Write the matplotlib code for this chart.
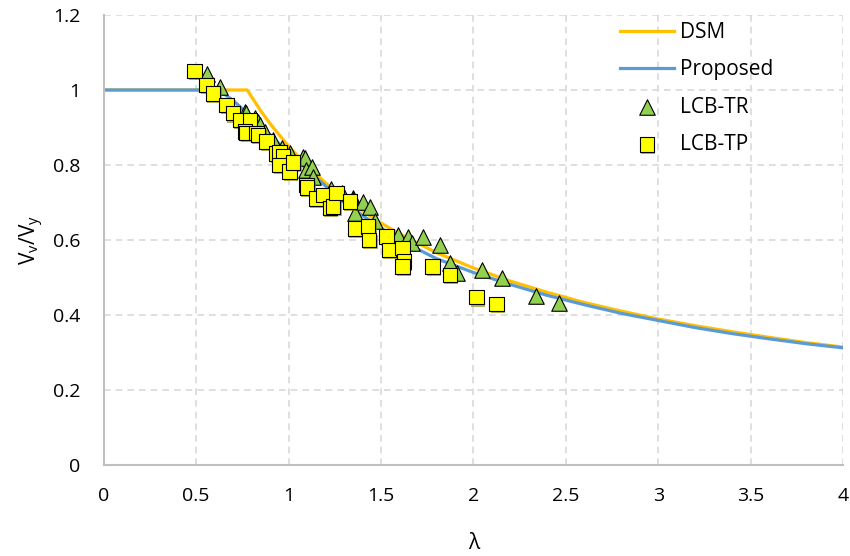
import numpy as np
import matplotlib
matplotlib.use('Agg')
import matplotlib.pyplot as plt
import matplotlib.patheffects as pe

plt.rcParams['font.family'] = ['Open Sans', 'DejaVu Sans']
plt.rcParams['mathtext.fontset'] = 'custom'
plt.rcParams['mathtext.rm'] = 'Open Sans'

# design curves
dsm_lam = [0, 0.776, 0.85, 0.9, 1.0, 1.1, 1.2, 1.3, 1.4, 1.5, 1.6, 1.8, 2.0, 2.2,
           2.4, 2.6, 2.8, 3.0, 3.2, 3.4, 3.6, 3.8, 4.0]
dsm_v = [1.0, 1.0, 0.944, 0.910, 0.850, 0.798, 0.752, 0.712, 0.677, 0.645, 0.616,
         0.566, 0.525, 0.490, 0.460, 0.433, 0.410, 0.389, 0.371, 0.355, 0.340,
         0.326, 0.314]

prop_lam = [0, 0.6, 0.65, 0.7, 0.75, 0.8, 0.9, 1.0, 1.1, 1.2, 1.3, 1.4, 1.5, 1.6,
            1.8, 2.0, 2.2, 2.4, 2.6, 2.8, 3.0, 3.2, 3.4, 3.6, 3.8, 4.0]
prop_v = [1.0, 1.0, 0.99, 0.972, 0.950, 0.928, 0.880, 0.832, 0.788, 0.744, 0.700,
          0.665, 0.632, 0.600, 0.550, 0.513, 0.481, 0.452, 0.427, 0.404, 0.385,
          0.366, 0.350, 0.336, 0.323, 0.312]

# test results
tr_lam = [0.561, 0.628, 0.763, 0.772, 0.817, 0.833, 0.844, 0.871, 0.916, 0.962,
          1.006, 1.077, 1.088, 1.096, 1.129, 1.131, 1.232, 1.290, 1.346, 1.349,
          1.358, 1.40, 1.439, 1.466, 1.593, 1.647, 1.67, 1.728, 1.818, 1.872,
          1.909, 2.047, 2.155, 2.338, 2.464]
tr_v = [1.043, 1.009, 0.941, 0.938, 0.925, 0.915, 0.907, 0.889, 0.867, 0.845,
        0.831, 0.822, 0.818, 0.787, 0.795, 0.769, 0.735, 0.725, 0.712, 0.707,
        0.671, 0.700, 0.687, 0.651, 0.613, 0.609, 0.591, 0.609, 0.587, 0.538,
        0.511, 0.520, 0.498, 0.451, 0.431]

tp_lam = [0.492, 0.556, 0.592, 0.664, 0.70, 0.736, 0.79, 0.763, 0.772, 0.826,
          0.835, 0.88, 0.934, 0.952, 0.97, 0.952, 1.006, 1.024, 1.097, 1.10,
          1.15, 1.187, 1.223, 1.241, 1.259, 1.331, 1.358, 1.43, 1.436, 1.53,
          1.544, 1.616, 1.623, 1.616, 1.778, 1.872, 2.017, 2.124]
tp_v = [1.051, 1.013, 0.991, 0.960, 0.938, 0.920, 0.920, 0.889, 0.885, 0.885,
        0.880, 0.862, 0.831, 0.835, 0.822, 0.800, 0.782, 0.807, 0.747, 0.740,
        0.711, 0.720, 0.685, 0.689, 0.725, 0.702, 0.631, 0.636, 0.600, 0.609,
        0.573, 0.579, 0.542, 0.529, 0.529, 0.507, 0.447, 0.429]

fig = plt.figure(figsize=(8.5, 5.56), dpi=100)
ax = fig.add_axes([0.122, 0.164, 0.870, 0.809])

ax.plot(dsm_lam, dsm_v, color='#FFC000', lw=2.3, label='DSM', zorder=2)
ax.plot(prop_lam, prop_v, color='#5B9BD5', lw=2.3, label='Proposed', zorder=2)

ax.scatter(tr_lam, tr_v, marker='^', s=125, color='#92D050', edgecolor='black',
           linewidth=0.8, label='LCB-TR', zorder=3)
sq = ax.scatter(tp_lam, tp_v, marker='s', s=108, color='#FFFF00', edgecolor='black',
                linewidth=0.8, label='LCB-TP', zorder=4)
sq.set_path_effects([pe.SimplePatchShadow(offset=(1, -1.5), shadow_rgbFace='#7F7F00', alpha=0.6),
                     pe.Normal()])

ax.set_xlim(0, 4)
ax.set_ylim(0, 1.2)
ax.set_xticks(np.arange(0, 4.01, 0.5))
ax.set_xticklabels(['0', '0.5', '1', '1.5', '2', '2.5', '3', '3.5', '4'])
ax.set_yticks(np.arange(0, 1.21, 0.2))
ax.set_yticklabels(['0', '0.2', '0.4', '0.6', '0.8', '1', '1.2'])
ax.tick_params(length=0, labelsize=14, colors='#000000')
ax.tick_params(axis='x', pad=16)
ax.tick_params(axis='y', pad=17)
ax.grid(True, color='#D9D9D9', linestyle=(0, (4, 3)), lw=1.2)
ax.set_axisbelow(True)
for s in ['top', 'right']:
    ax.spines[s].set_visible(False)
for s in ['left', 'bottom']:
    ax.spines[s].set_color('#BFBFBF')
    ax.spines[s].set_linewidth(1.5)

ax.set_xlabel('λ', fontsize=15, labelpad=20)
ax.set_ylabel(r'V$_\mathregular{v}$/V$_\mathregular{y}$', fontsize=15, labelpad=5)

leg = fig.legend(loc='upper left', bbox_to_anchor=(0.729, 0.960), frameon=False,
                 fontsize=15, handlelength=2.6, handletextpad=0.3, labelspacing=0.78,
                 borderpad=0, borderaxespad=0)

fig.savefig('out.png', dpi=100)
